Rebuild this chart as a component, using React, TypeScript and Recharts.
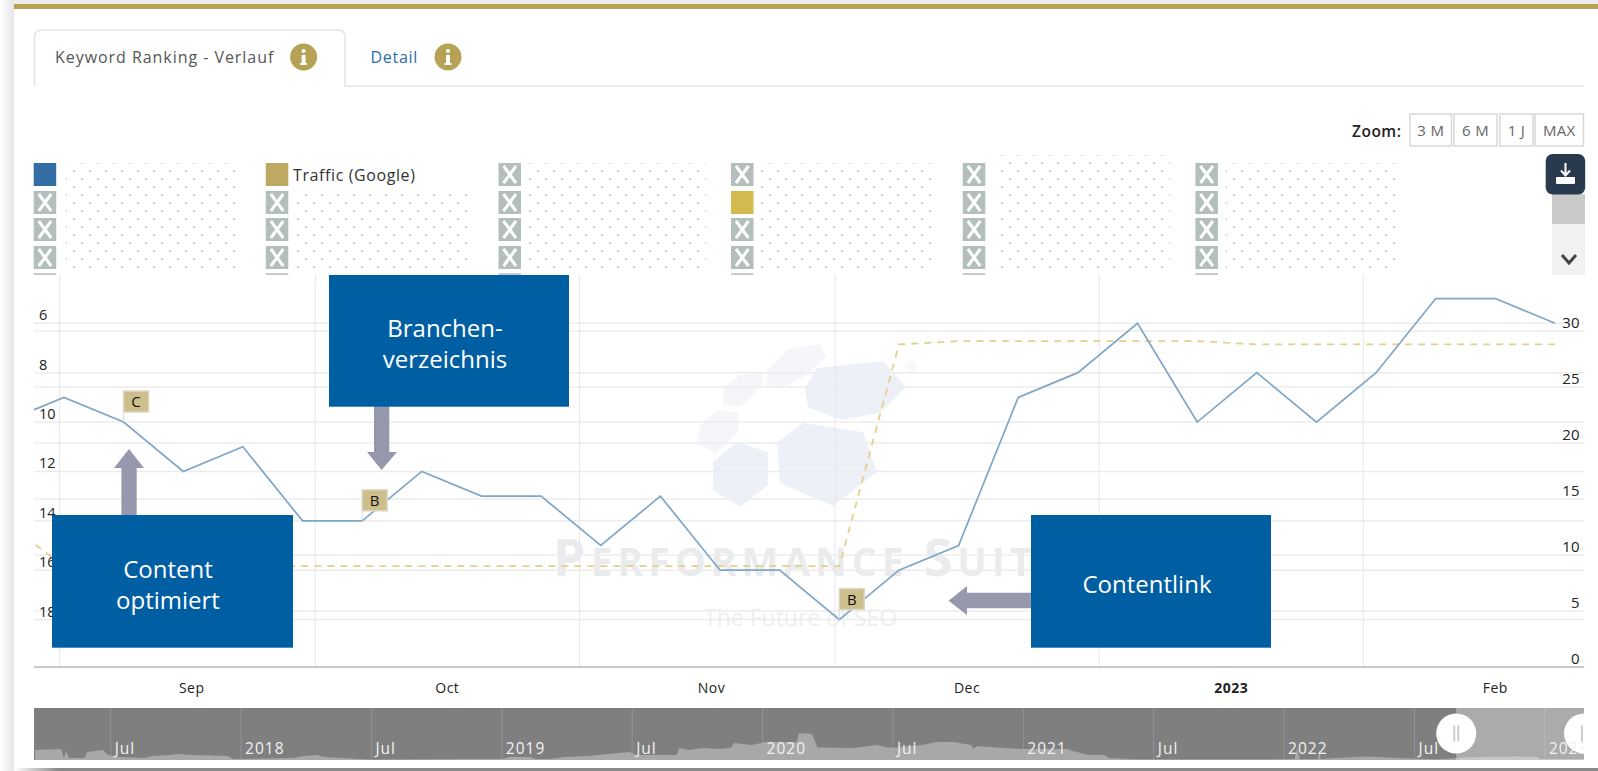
import { ComposedChart, AreaChart, Area, Line, XAxis, YAxis, CartesianGrid, ReferenceArea, ReferenceDot } from 'recharts';

// weekly samples of the visible range
const weeks = [
  '2022-08-25', '2022-09-01', '2022-09-08', '2022-09-15', '2022-09-22', '2022-09-29', '2022-10-06',
  '2022-10-13', '2022-10-20', '2022-10-27', '2022-11-03', '2022-11-10', '2022-11-17', '2022-11-24',
  '2022-12-01', '2022-12-08', '2022-12-15', '2022-12-22', '2022-12-29', '2023-01-05', '2023-01-12',
  '2023-01-19', '2023-01-26', '2023-02-02', '2023-02-09', '2023-02-16', '2023-02-23',
];
const ranking = [10, 9, 10, 12, 11, 14, 14, 12, 13, 13, 15, 13, 16, 16, 18, 16, 15, 9, 8, 6, 10, 8, 10, 8, 5, 5, 6];
const traffic = [13, 9, 9, 9, 9, 9, 9, 9, 9, 9, 9, 9, 9, 9, 9, 28.8, 29.1, 29.1, 29.1, 29.1, 29.1, 28.8, 28.8, 28.8, 28.8, 28.8, 28.8];

const monthTicks = ['2022-09-01', '2022-10-01', '2022-11-01', '2022-12-01', '2023-01-01', '2023-02-01'];
const monthLabels = ['Sep', 'Oct', 'Nov', 'Dec', '2023', 'Feb'];
const rankTicks = [6, 8, 10, 12, 14, 16, 18];
const trafficTicks = [0, 5, 10, 15, 20, 25, 30];

const flagWeeks = ['2022-09-08', '2022-10-06', '2022-12-01'];
const flagLetters = ['C', 'B', 'B'];

// navigator: year as decimal, height of the area
const navYears = [
  2017.21, 2017.31, 2017.32, 2017.33, 2017.34, 2017.4, 2017.41, 2017.47, 2017.49, 2017.53, 2017.63, 2017.66, 2017.73, 2017.76, 2017.81, 2017.95, 2017.97,
  2018.2, 2018.24, 2018.29, 2018.32, 2018.49, 2018.87, 2019.0, 2019.03, 2019.11, 2019.13, 2019.18, 2019.24, 2019.33, 2019.43, 2019.49, 2019.52, 2019.67, 2019.68,
  2019.72, 2019.77, 2019.84, 2019.88, 2019.89, 2019.96, 2020.01, 2020.13, 2020.14, 2020.19, 2020.21, 2020.35, 2020.44, 2020.48, 2020.52, 2020.61, 2020.67, 2020.73,
  2020.8, 2020.81, 2020.82, 2020.92, 2021.0, 2021.17, 2021.19, 2021.25, 2021.31, 2021.33, 2021.43, 2021.95, 2022.04, 2022.05, 2022.06, 2022.13, 2022.135, 2022.14,
  2022.2, 2022.31, 2022.44, 2022.59, 2022.71, 2022.89, 2022.97, 2022.98, 2023.15,
];
const navHeights = [
  10, 11, 2, 9, 2, 2, 8, 10, 5, 3, 2, 4, 5, 6, 5, 4, 1,
  2, 4, 5, 3, 0.5, 1, 1, 3, 3, 1, 1, 3, 4, 6.5, 8, 5, 5, 12,
  10, 12, 11, 12.5, 17, 15, 18, 18, 27, 26, 12.5, 12, 15, 12.5, 12.5, 15, 18, 18,
  15, 11, 14, 12, 11, 11, 9, 5, 5, 2, 0.7, 0.7, 1, 12, 1, 1, 10, 1,
  2, 3.5, 2, 0.7, 2.7, 3.5, 3, 1, 1,
];
const navTicks = [2017.5, 2018, 2018.5, 2019, 2019.5, 2020, 2020.5, 2021, 2021.5, 2022, 2022.5, 2023];
const navTickLabels = ['Jul', '2018', 'Jul', '2019', 'Jul', '2020', 'Jul', '2021', 'Jul', '2022', 'Jul', '2023'];

const toTime = (d: string) => Date.parse(d + 'T00:00:00Z');
const DAY = 86400000;
const chartData = weeks.map((w, i) => ({ t: toTime(w) + DAY / 2, week: w, ranking: ranking[i], traffic: traffic[i] }));
const monthTickTimes = monthTicks.map(toTime);
const navData = navYears.map((y, i) => ({ y, h: navHeights[i] }));

const FONT = '"Open Sans", "Noto Sans", sans-serif';
const GOLD = '#b6a254';

const MonthTick = ({ x, payload }: any) => {
  const i = monthTickTimes.indexOf(payload.value);
  return (
    <text x={x + 132} y={693} textAnchor="middle" fontFamily={FONT} fontSize={14} letterSpacing={0.5} fontWeight={monthLabels[i] === '2023' ? 700 : 400} fill="#222">
      {monthLabels[i]}
    </text>
  );
};

const RankTick = ({ y, payload }: any) => (
  <text x={39} y={y - 3} fontFamily={FONT} fontSize={14.5} fill="#222">{payload.value}</text>
);

const TrafficTick = ({ y, payload }: any) => (
  <text x={1579.5} y={y - 3} textAnchor="end" fontFamily={FONT} fontSize={15} fill="#222">{payload.value}</text>
);

const FlagDot = ({ cx, cy, payload }: any) => {
  const i = flagWeeks.indexOf(payload.week);
  if (i < 0) return <g key={payload.week} />;
  return (
    <g key={payload.week}>
      <line x1={cx} y1={cy - 10} x2={cx} y2={cy} stroke="#d8d8d8" />
      <rect x={cx} y={cy - 31} width={25} height={21} fill="#cdbf8b" stroke="#dcd8c4" strokeWidth={1.5} />
      <text x={cx + 12.5} y={cy - 15} textAnchor="middle" fontFamily={FONT} fontSize={15} fill="#111">{flagLetters[i]}</text>
    </g>
  );
};

const NavTick = ({ x, payload }: any) => {
  const i = navTicks.indexOf(payload.value);
  return (
    <text x={x + 4} y={46} fontFamily={FONT} fontSize={15.5} fill="#f2f2f2" letterSpacing={1}>{navTickLabels[i]}</text>
  );
};

const NavHandle = ({ cx, cy }: any) => (
  <g>
    <circle cx={cx} cy={cy} r={20} fill="#fff" />
    <rect x={cx - 3} y={cy - 8} width={2} height={16} fill="#ccc" />
    <rect x={cx + 1} y={cy - 8} width={2} height={16} fill="#ccc" />
  </g>
);

const Info = ({ cx, cy }: { cx: number; cy: number }) => (
  <g>
    <circle cx={cx} cy={cy} r={13.5} fill={GOLD} />
    <circle cx={cx} cy={cy - 6} r={2} fill="#fff" />
    <rect x={cx - 2} y={cy - 2} width={4} height={9} fill="#fff" />
    <rect x={cx - 3.5} y={cy + 6} width={7} height={2} fill="#fff" />
  </g>
);

const legendX = [33.7, 265.8, 498.5, 731, 962.8, 1195.4];
const legendY = [163, 191, 218, 246];
const dotAreas = [
  [66, 163, 175, 106],
  [294, 194, 179, 75],
  [527, 163, 179, 106],
  [759, 163, 177, 106],
  [998, 155, 172, 114],
  [1226, 163, 175, 106],
];

const Legend = () => (
  <g>
    <defs>
      <pattern id="dots" width={16} height={16} patternUnits="userSpaceOnUse">
        <circle cx={2} cy={3} r={0.8} fill="#8e8e8e" />
        <circle cx={10} cy={11} r={0.8} fill="#8e8e8e" />
      </pattern>
    </defs>
    {dotAreas.map((a, i) => <rect key={i} x={a[0]} y={a[1]} width={a[2]} height={a[3]} fill="url(#dots)" />)}
    {legendX.map((x, c) => (
      <g key={c}>
        {legendY.map((y, r) => {
          let fill = '';
          if (c === 0 && r === 0) fill = '#336ea5';
          if (c === 1 && r === 0) fill = '#bda961';
          if (c === 3 && r === 1) fill = '#d4b94e';
          if (fill) return <rect key={r} x={x} y={y} width={22.5} height={23} fill={fill} />;
          return (
            <g key={r}>
              <rect x={x} y={y} width={22.5} height={23} fill="#b4bfbd" />
              <path d={`M${x + 5} ${y + 3}L${x + 17.5} ${y + 20}M${x + 17.5} ${y + 3}L${x + 5} ${y + 20}`} stroke="#fff" strokeWidth={3} />
            </g>
          );
        })}
        <rect x={x} y={273} width={22.5} height={2} fill="#c4cbca" />
      </g>
    ))}
    <text x={293} y={180.5} fontFamily={FONT} fontSize={16} letterSpacing={0.6} fill="#333">Traffic (Google)</text>
  </g>
);

const zoomButtons = [
  { label: '3 M', x: 1410, w: 41.5 },
  { label: '6 M', x: 1454, w: 43 },
  { label: '1 J', x: 1500, w: 33 },
  { label: 'MAX', x: 1535, w: 48.5 },
];

const Frame = () => (
  <svg width={1598} height={771} style={{ position: 'absolute', left: 0, top: 0 }}>
    <defs>
      <linearGradient id="side" x1="0" x2="1" y1="0" y2="0">
        <stop offset="0" stopColor="#fff" />
        <stop offset="1" stopColor="#e6e6e6" />
      </linearGradient>
      <linearGradient id="bottom" x1="0" x2="1" y1="0" y2="0">
        <stop offset="0" stopColor="#fff" />
        <stop offset="1" stopColor="#8a8a8a" />
      </linearGradient>
    </defs>
    <rect x={0} y={0} width={14} height={771} fill="url(#side)" />
    <rect x={14} y={0} width={1584} height={4} fill="#ececec" />
    <rect x={14} y={4} width={1584} height={5} fill={GOLD} />
    <rect x={14} y={768} width={44} height={3} fill="url(#bottom)" />
    <rect x={58} y={768} width={1540} height={3} fill="#8a8a8a" />

    <path d="M34.5 86V36a6 6 0 0 1 6-6H339a6 6 0 0 1 6 6V86H1584" fill="none" stroke="#e4e4e4" strokeWidth={1.5} />
    <text x={55} y={62.5} fontFamily={FONT} fontSize={16} letterSpacing={0.95} fill="#555">Keyword Ranking - Verlauf</text>
    <Info cx={303.6} cy={57} />
    <text x={370.5} y={62.5} fontFamily={FONT} fontSize={16} letterSpacing={0.7} fill="#2c6ca5">Detail</text>
    <Info cx={448} cy={57} />

    <text x={1352} y={136.5} fontFamily={FONT} fontSize={15.5} letterSpacing={0.5} fontWeight={600} fill="#222">Zoom:</text>
    {zoomButtons.map((b) => (
      <g key={b.label}>
        <rect x={b.x} y={114} width={b.w} height={32} fill="#fff" stroke="#d8d8d8" strokeWidth={1.5} />
        <text x={b.x + b.w / 2} y={135.5} textAnchor="middle" fontFamily={FONT} fontSize={15} letterSpacing={0.3} fill="#666">{b.label}</text>
      </g>
    ))}

    <Legend />

    <rect x={1552} y={194} width={33} height={30} fill="#cacaca" />
    <rect x={1552} y={224} width={33} height={51} fill="#f1f1f1" />
    <path d="M1562 255L1569 263L1576 255" fill="none" stroke="#444" strokeWidth={3} />
    <rect x={1545.7} y={154} width={39.5} height={40.5} rx={7} fill="#2a3a4e" />
    <path d="M1565.5 163V175M1561 170.5L1565.5 175.5L1570 170.5" fill="none" stroke="#fff" strokeWidth={2} />
    <rect x={1556} y={177} width={19} height={7} rx={1} fill="#fff" />

    {/* watermark */}
    <g fill="#f4f6fa">
      <polygon points="723,388 740,375 763,373 762,386 740,407 723,405" />
      <polygon points="767,370 787,350 820,344 826,357 807,375 780,388 767,385" />
      <polygon points="701,425 718,410 738,413 738,432 715,453 697,443" />
    </g>
    <g fill="#edf1f7">
      <polygon points="805,388 817,368 883,361 906,387 880,413 840,420 808,407" />
      <polygon points="713,462 737,442 768,452 768,485 740,507 713,490" />
      <polygon points="777,443 803,423 863,432 877,472 833,506 780,483" />
    </g>
    <text x={911} y={371} textAnchor="middle" fontFamily={FONT} fontSize={13} fill="#eef0f3">®</text>
    <text x={553} y={576} fontFamily={FONT} fontWeight={700} fontSize={39} fill="#e9ebed" letterSpacing={5}>
      <tspan fontSize={52}>P</tspan>ERFORMANCE <tspan fontSize={52}>S</tspan>UITE
    </text>
    <text x={704} y={626} fontFamily={FONT} fontSize={23} fill="#eeeff1">The Future of SEO</text>
  </svg>
);

const Annotations = () => (
  <svg width={1598} height={771} style={{ position: 'absolute', left: 0, top: 0 }}>
    <g fill="#9699ae">
      <polygon points="129,449 144,468 136.7,468 136.7,516 121.4,516 121.4,468 114,468" />
      <polygon points="374,406 389.3,406 389.3,452 397,452 381.6,470 367,452 374,452" />
      <polygon points="948.6,600.7 967,586 967,592.7 1032,592.7 1032,608.3 967,608.3 967,615" />
    </g>
    <g fill="#005ea3">
      <rect x={52} y={515} width={241} height={132.7} />
      <rect x={329} y={275} width={240} height={131.7} />
      <rect x={1031} y={515} width={240} height={132.7} />
    </g>
    <g fontFamily={FONT} fontSize={24} fill="#fff" textAnchor="middle">
      <text x={168} y={578}>Content</text>
      <text x={168} y={609}>optimiert</text>
      <text x={445} y={337}>Branchen-</text>
      <text x={445} y={368}>verzeichnis</text>
      <text x={1147} y={593}>Contentlink</text>
    </g>
  </svg>
);

const App = () => {
  return (
    <div style={{ position: 'absolute', left: 0, top: 0, width: 1598, height: 771, overflow: 'hidden', background: '#fff' }}>
      <Frame />
      <div style={{ position: 'absolute', left: 0, top: 0 }}>
        <ComposedChart width={1598} height={771} data={chartData} margin={{ top: 275, right: 13, bottom: 103, left: 33 }}>
          <CartesianGrid yAxisId="rank" vertical={false} horizontalValues={rankTicks} stroke="#ececec" strokeWidth={1.5} />
          <CartesianGrid yAxisId="traffic" vertical={false} horizontalValues={trafficTicks} stroke="#ececec" strokeWidth={1.5} />
          <CartesianGrid horizontal={false} verticalValues={monthTickTimes} stroke="#e6e7ea" />
          <XAxis
            dataKey="t"
            type="number"
            scale="linear"
            domain={[toTime('2022-09-01') - 3.016 * DAY, toTime('2022-09-01') + 178.9 * DAY]}
            allowDataOverflow
            ticks={monthTickTimes}
            interval={0}
            height={1}
            tickLine={false}
            axisLine={{ stroke: '#c9c9c2', strokeWidth: 2 }}
            tick={<MonthTick />}
          />
          <YAxis yAxisId="rank" reversed domain={[4.045, 19.92]} allowDataOverflow ticks={rankTicks} interval={0} width={1} axisLine={false} tickLine={false} tick={<RankTick />} />
          <YAxis yAxisId="traffic" orientation="right" domain={[0, 35]} allowDataOverflow ticks={trafficTicks} interval={0} width={1} axisLine={false} tickLine={false} tick={<TrafficTick />} />
          <Line yAxisId="traffic" dataKey="traffic" stroke="#e6cf8c" strokeWidth={1.8} strokeDasharray="7 6" dot={false} isAnimationActive={false} />
          <Line yAxisId="rank" dataKey="ranking" stroke="#7ea6c8" strokeWidth={1.7} dot={<FlagDot />} activeDot={false} isAnimationActive={false} />
        </ComposedChart>
      </div>
      <div style={{ position: 'absolute', left: 34, top: 708 }}>
        <AreaChart width={1550} height={52} data={navData} margin={{ top: 0, right: 0, bottom: 0, left: 0 }} style={{ background: '#7f7f7f' }}>
          <CartesianGrid horizontal={false} verticalValues={navTicks} stroke="#939393" />
          <XAxis dataKey="y" type="number" scale="linear" domain={[2017.206, 2023.15]} allowDataOverflow ticks={navTicks} interval={0} height={1} mirror axisLine={false} tickLine={false} tick={<NavTick />} />
          <YAxis hide domain={[0, 52]} />
          <Area dataKey="h" type="linear" stroke="none" fill="#a8a8a8" fillOpacity={1} isAnimationActive={false} />
          <ReferenceArea x1={2022.66} x2={2023.15} fill="#fff" fillOpacity={0.35} stroke="none" ifOverflow="visible" />
          <ReferenceDot x={2022.66} y={26.5} ifOverflow="visible" shape={<NavHandle />} />
          <ReferenceDot x={2023.15} y={26.5} ifOverflow="visible" shape={<NavHandle />} />
        </AreaChart>
      </div>
      <Annotations />
    </div>
  );
};

export default App;
